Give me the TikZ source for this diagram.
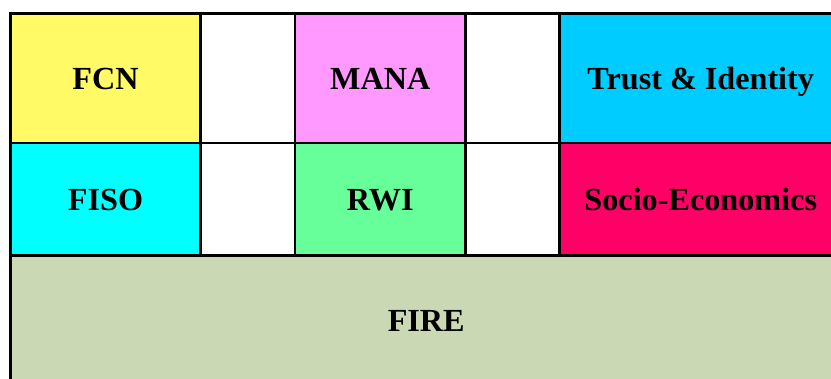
\documentclass[tikz,border=0pt]{standalone}
\usepackage{fontspec}
\setmainfont{Liberation Serif}
\definecolor{fcnyellow}{RGB}{255,250,102}
\definecolor{manapink}{RGB}{255,153,255}
\definecolor{trustblue}{RGB}{0,204,255}
\definecolor{fisocyan}{RGB}{0,255,255}
\definecolor{rwigreen}{RGB}{102,255,153}
\definecolor{socred}{RGB}{255,0,102}
\definecolor{firekhaki}{RGB}{203,216,180}
\tikzset{
  cell/.style={draw=black, line width=2.6bp, rectangle, inner sep=0pt},
  label/.style={inner sep=0pt, text height=21.5bp, text depth=0pt,
    font=\fontsize{32.2bp}{38bp}\selectfont\bfseries, text=black},
}
\newcommand{\cellnode}[7]{% name, fill, x1, y1, x2, y2, text
  \node[cell, fill=#2, minimum width=#5bp-#3bp, minimum height=#6bp-#4bp]
    (#1) at ({(#3+#5)/2},{(#4+#6)/2}) {};
  \node[label] at ([yshift=-0.5bp]#1.center) {#7};}
\begin{document}
\begin{tikzpicture}[x=1bp, y=-1bp]
  \useasboundingbox (0,0) rectangle (831,378);
  \clip (0,0) rectangle (831,378);
  \fill[white] (0,0) rectangle (831,378);
  % top row
  \cellnode{fcn}{fcnyellow}{10.5}{13.5}{200.5}{143}{FCN}
  \cellnode{gapa}{white}{200.5}{13.5}{295}{143}{}
  \cellnode{mana}{manapink}{295}{13.5}{465.5}{143}{MANA}
  \cellnode{gapb}{white}{465.5}{13.5}{559.5}{143}{}
  \cellnode{trust}{trustblue}{559.5}{13.5}{842}{143}{Trust \& Identity}
  % middle row
  \cellnode{fiso}{fisocyan}{10.5}{143}{200.5}{255.5}{FISO}
  \cellnode{gapc}{white}{200.5}{143}{295}{255.5}{}
  \cellnode{rwi}{rwigreen}{295}{143}{465.5}{255.5}{RWI}
  \cellnode{gapd}{white}{465.5}{143}{559.5}{255.5}{}
  \cellnode{socio}{socred}{559.5}{143}{842}{255.5}{Socio-Economics}
  % base layer
  \cellnode{fire}{firekhaki}{10.5}{255.5}{842}{385}{FIRE}
\end{tikzpicture}
\end{document}
